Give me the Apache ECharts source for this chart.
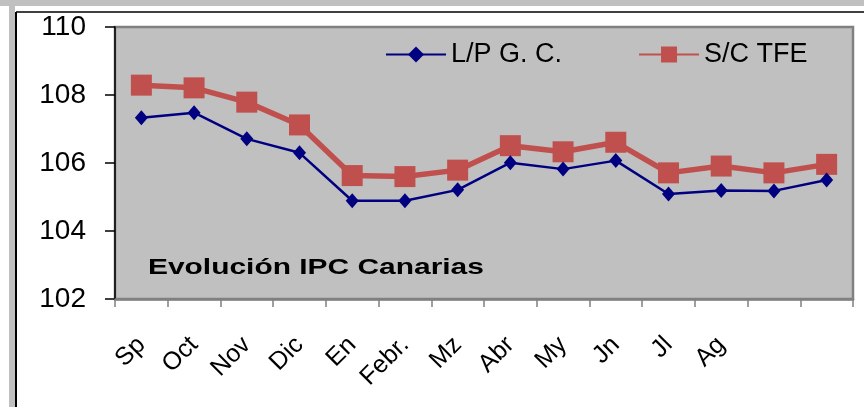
<!DOCTYPE html>
<html>
<head>
<meta charset="utf-8">
<script src="https://cdn.jsdelivr.net/npm/echarts@6/dist/echarts.min.js"></script>
<style>
html,body{margin:0;padding:0;background:#fff;}
#chart{width:864px;height:407px;}
</style>
</head>
<body>
<div id="chart"></div>
<script>
const categories = ['Sp','Oct','Nov','Dic','En','Febr.','Mz','Abr','My','Jn','Jl','Ag','',''];
const seriesNames = ['L/P G. C.', 'S/C TFE'];
const lpValues = [107.33, 107.48, 106.71, 106.30, 104.89, 104.89, 105.21, 106.01, 105.82, 106.07, 105.09, 105.19, 105.18, 105.50];
const scValues = [108.29, 108.21, 107.79, 107.12, 105.63, 105.60, 105.79, 106.51, 106.33, 106.61, 105.71, 105.91, 105.71, 105.96];
const yTicks = { min: 102, max: 110, interval: 2 };
const chartTitle = 'Evolución IPC Canarias';

const FONT = '"Liberation Sans", Arial, sans-serif';
const chart = echarts.init(document.getElementById('chart'), null, { renderer: 'canvas' });

chart.setOption({
  backgroundColor: '#ffffff',
  animation: false,
  grid: {
    left: 115, top: 27, right: 11, bottom: 108,
    show: true, backgroundColor: '#c0c0c0', borderColor: '#808080', borderWidth: 2.5
  },
  legend: {
    left: 380, top: 36,
    itemWidth: 60, itemHeight: 20, itemGap: 76,
    textStyle: { fontFamily: FONT, fontSize: 27, color: '#000', width: 128 },
    data: seriesNames
  },
  graphic: [
    { type: 'rect', left: 0, top: 0, shape: { width: 864, height: 6 }, style: { fill: '#c0c0c0' }, silent: true },
    { type: 'rect', left: 9, top: 0, shape: { width: 6, height: 407 }, style: { fill: '#c0c0c0' }, silent: true },
    { type: 'line', shape: { x1: 16, y1: 12, x2: 864, y2: 12 }, style: { stroke: '#000', lineWidth: 1.5 }, silent: true },
    { type: 'line', shape: { x1: 16, y1: 12, x2: 16, y2: 407 }, style: { stroke: '#000', lineWidth: 2 }, silent: true },
    { type: 'text', x: 148, y: 268, scaleX: 1.36, z: 10,
      style: { text: chartTitle, font: 'bold 22px ' + FONT, fill: '#000', verticalAlign: 'middle', align: 'left' } }
  ],
  xAxis: {
    type: 'category',
    data: categories,
    boundaryGap: true,
    axisLine: { show: true, lineStyle: { color: '#808080', width: 2.5 } },
    axisTick: { show: true, length: 8, alignWithLabel: false, interval: 0, lineStyle: { color: '#808080', width: 1.5 } },
    axisLabel: { interval: 0, rotate: 45, margin: 42, fontFamily: FONT, fontSize: 25, color: '#000' },
    splitLine: { show: false }
  },
  yAxis: {
    type: 'value',
    min: yTicks.min, max: yTicks.max, interval: yTicks.interval,
    axisLine: { show: true, lineStyle: { color: '#000', width: 1.5 } },
    axisTick: { show: true, length: 10, lineStyle: { color: '#000', width: 1.5 } },
    axisLabel: { margin: 29, fontFamily: FONT, fontSize: 28, color: '#000' },
    splitLine: { show: false }
  },
  series: [
    {
      name: seriesNames[0], type: 'line', data: lpValues, z: 4,
      symbol: 'diamond', symbolSize: [13, 15],
      lineStyle: { color: '#000080', width: 2.5 },
      itemStyle: { color: '#000080' }
    },
    {
      name: seriesNames[1], type: 'line', data: scValues, z: 3,
      symbol: 'rect', symbolSize: 21,
      lineStyle: { color: '#c0504d', width: 5.5 },
      itemStyle: { color: '#c0504d' }
    }
  ]
});
</script>
</body>
</html>
